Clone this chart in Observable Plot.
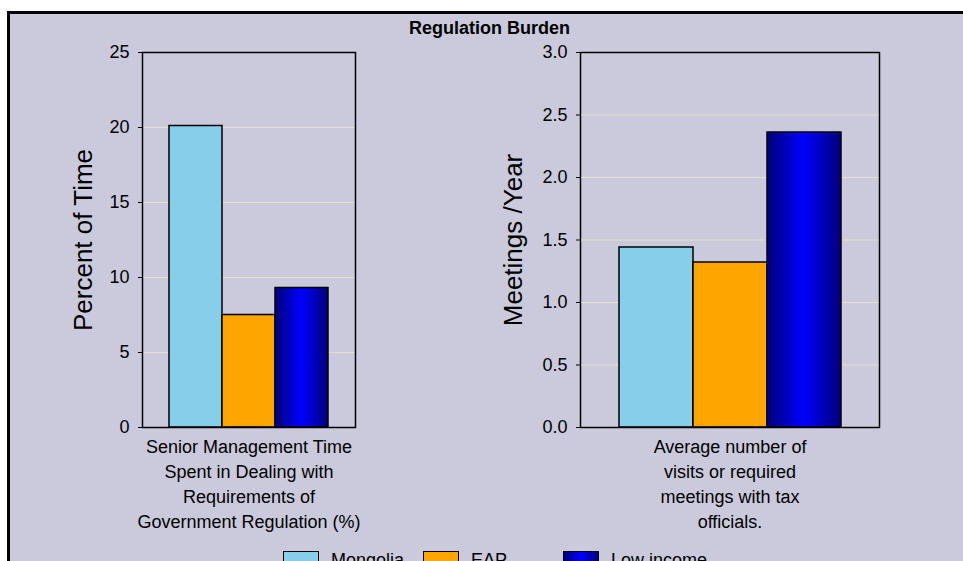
<!DOCTYPE html>
<html>
<head>
<meta charset="utf-8">
<script src="https://cdn.jsdelivr.net/npm/d3@7"></script>
<script src="https://cdn.jsdelivr.net/npm/@observablehq/plot@0.6"></script>
<style>
  html, body { margin: 0; padding: 0; background: #fff; overflow: hidden; }
  body { width: 963px; height: 561px; position: relative; font-family: "Liberation Sans", Arial, sans-serif; }
  #frame { position: absolute; left: 7px; top: 11px; width: 1000px; height: 600px;
           border-left: 3px solid #000; border-top: 3px solid #000; background: #cacadc; }
  #title { position: absolute; left: 0; top: 19px; width: 979px; text-align: center;
           font-weight: bold; font-size: 18px; line-height: 18px; color: #000; }
  .panel { position: absolute; top: 0; }
  .legend-item { position: absolute; top: 551px; height: 18px; }
  .legend-swatch { position: absolute; top: 0; left: 0; width: 34px; height: 16px; border: 1.5px solid #000; box-sizing: content-box; }
  .legend-label { position: absolute; top: 0; left: 48px; font-size: 18px; line-height: 18px; white-space: nowrap; color: #000; }
</style>
</head>
<body>
<svg width="0" height="0" style="position:absolute">
  <defs>
    <linearGradient id="lowIncomeGrad" x1="0" y1="0" x2="1" y2="0">
      <stop offset="0" stop-color="#00007a"/>
      <stop offset="0.5" stop-color="#0000ff"/>
      <stop offset="1" stop-color="#00007a"/>
    </linearGradient>
  </defs>
</svg>
<div id="frame"></div>
<div id="title">Regulation Burden</div>
<div id="left" class="panel" style="left:0px"></div>
<div id="right" class="panel" style="left:480px"></div>
<div id="legend"></div>
<script>
// ---- data ----
const series = ["Mongolia", "EAP", "Low income"];
const seriesColors = ["#87ceeb", "#ffa500", "url(#lowIncomeGrad)"];
const legendColors = ["#87ceeb", "#ffa500", "linear-gradient(to right, #00007a, #0000ff, #00007a)"];
const regulationPct = [20.1, 7.5, 9.3];
const taxMeetings = [1.44, 1.32, 2.36];
const categoryLabels = [
  "Senior Management Time\nSpent in Dealing with\nRequirements of\nGovernment Regulation (%)",
  "Average number of\nvisits or required\nmeetings with tax\nofficials."
];
const yLabels = ["Percent of Time", "Meetings /Year"];
const leftTicks = [0, 5, 10, 15, 20, 25];
const rightTicks = [0, 0.5, 1.0, 1.5, 2.0, 2.5, 3.0];

function panel({values, category, yLabel, ticks, fmt, width, marginLeft, marginRight, labelDx}) {
  const data = series.map((s, i) => ({series: s, value: values[i]}));
  const H = 545;
  return Plot.plot({
    width, height: H,
    marginLeft, marginRight, marginTop: 52, marginBottom: H - 427,
    style: {background: "transparent", fontFamily: "'Liberation Sans', Arial, sans-serif", fontSize: "18px", color: "#000", overflow: "visible"},
    x: {domain: series, paddingInner: 0, paddingOuter: 0.5, axis: null},
    y: {domain: [ticks[0], ticks[ticks.length - 1]], label: null},
    color: {domain: series, range: seriesColors},
    marks: [
      Plot.gridY(ticks.slice(1, -1), {stroke: "#e4e2cc", strokeOpacity: 1, strokeWidth: 1}),
      Plot.barY(data, {x: "series", y: "value", fill: "series", stroke: "#000", strokeWidth: 1.5}),
      Plot.frame({stroke: "#000", strokeWidth: 1.5}),
      Plot.axisY(ticks, {tickFormat: fmt, tickSize: 4, tickPadding: 9, label: null, fontSize: 18, stroke: "#000"}),
      Plot.text([category], {text: d => d, frameAnchor: "bottom", lineAnchor: "top", dy: 8, fontSize: 18, lineHeight: 1.38, fill: "#000"}),
      Plot.text([yLabel], {text: d => d, frameAnchor: "left", textAnchor: "middle", lineAnchor: "middle", rotate: -90, dx: labelDx, fontSize: 26, fill: "#000"})
    ]
  });
}

document.getElementById("left").append(panel({
  values: regulationPct, category: categoryLabels[0], yLabel: yLabels[0],
  ticks: leftTicks, fmt: d3.format("d"), width: 480, marginLeft: 142, marginRight: 480 - 355, labelDx: -59
}));
document.getElementById("right").append(panel({
  values: taxMeetings, category: categoryLabels[1], yLabel: yLabels[1],
  ticks: rightTicks, fmt: d3.format(".1f"), width: 483, marginLeft: 100, marginRight: 483 - 399, labelDx: -67
}));

// legend
const legend = document.getElementById("legend");
series.forEach((s, i) => {
  const item = document.createElement("div");
  item.className = "legend-item";
  item.style.left = (283 + 140 * i) + "px";
  const sw = document.createElement("div");
  sw.className = "legend-swatch";
  sw.style.background = legendColors[i];
  const lb = document.createElement("div");
  lb.className = "legend-label";
  lb.textContent = s;
  item.append(sw, lb);
  legend.append(item);
});
</script>
</body>
</html>
